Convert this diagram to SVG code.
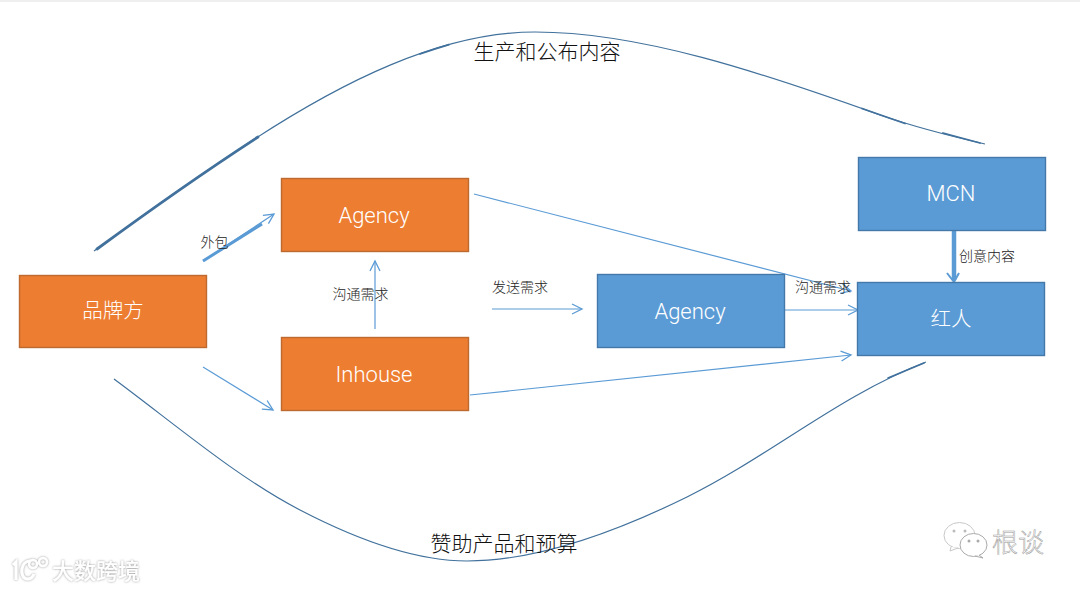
<svg xmlns="http://www.w3.org/2000/svg" width="1080" height="590" viewBox="0 0 1080 590">
<style>
.o{fill:#ed7d31;stroke:#bd6a30;stroke-width:1.4}
.b{fill:#5b9bd5;stroke:#4478a8;stroke-width:1.4}
.l{font-family:Roboto,"Liberation Sans",sans-serif;font-weight:300;font-size:22px;fill:#fff;text-anchor:middle}
.c{font-family:"Noto Sans CJK SC","Liberation Sans",sans-serif;font-weight:300;fill:#fff;text-anchor:middle;font-size:20.500px}
.s{font-family:"Noto Sans CJK SC",sans-serif;font-weight:300;fill:#222;font-size:14px;text-anchor:middle}
.t{font-family:"Noto Sans CJK SC",sans-serif;font-weight:300;fill:#111;font-size:21px;text-anchor:middle}
.a{fill:none;stroke:#5b9bd5;stroke-width:1.2}
.d{fill:none;stroke:#41719c;stroke-width:1.2}
.th{fill:none;stroke:#41719c;stroke-linecap:round}
.w{font-family:"Noto Sans CJK SC",sans-serif;text-anchor:middle;fill:#fff}
</style>
<defs>
<marker id="ah" markerWidth="14" markerHeight="12" refX="11" refY="6" orient="auto" markerUnits="userSpaceOnUse"><path d="M1 1L11 6L1 11" fill="none" stroke="#5b9bd5" stroke-width="1.3"/></marker>
<filter id="sh" x="-20%" y="-30%" width="140%" height="160%"><feDropShadow dx="0" dy="0" stdDeviation="1.100" flood-color="#777" flood-opacity="0.800"/></filter>
</defs>
<rect width="1080" height="590" fill="#fff"/>
<rect width="1080" height="2" fill="#efefef"/>
<g id="connectors">
<path class="d" d="M94 251C146 213 198 176 250 142C340 83 440 32 535 32C640 32 760 72 880 115C915 127 950 136 985 144"/>
<path class="th" stroke-width="2.800" d="M97 249C146 213 198 176 258 137"/>
<path class="th" stroke-width="1.800" d="M420 54Q434 49 449 44.600"/>
<path class="th" stroke-width="1.800" d="M862 108.500L905 123.500"/>
<path class="th" stroke-width="1.800" d="M943 133L980 143"/>
<path class="d" d="M114 379C176 425 238 478 300 510C350 536 410 561 467 561C540 561 620 530 687 497C770 456 840 395 926 362"/>
<path class="th" stroke-width="1.600" d="M888 378L924 363"/>
<path class="a" d="M203 261L274 214" marker-end="url(#ah)"/>
<path d="M203 261L262 224" stroke="#5b9bd5" stroke-width="3" fill="none"/>
<path class="a" d="M203 367L273 410" marker-end="url(#ah)"/>
<path class="a" d="M375 329V261" marker-end="url(#ah)"/>
<path class="a" d="M492 309H582" marker-end="url(#ah)"/>
<path class="a" d="M785 310H858" marker-end="url(#ah)"/>
<path class="a" d="M474 194L851 291" marker-end="url(#ah)"/>
<path class="a" d="M470 395L851 355" marker-end="url(#ah)"/>
<path d="M954 231V280" stroke="#5b9bd5" stroke-width="4.500" fill="none"/>
<path d="M947 273L954 282L959 273" stroke="#5b9bd5" stroke-width="2" fill="none"/>
</g>
<g id="brand"><rect class="o" x="19.500" y="275.500" width="187" height="72"/><text class="c" x="113" y="318">品牌方</text></g>
<g id="agency-client"><rect class="o" x="281.500" y="178.500" width="187" height="73"/><text class="l" x="374" y="223">Agency</text></g>
<g id="inhouse"><rect class="o" x="281.500" y="337.500" width="187" height="73"/><text class="l" x="374" y="382">Inhouse</text></g>
<g id="agency-creator"><rect class="b" x="597.500" y="274.500" width="187" height="73"/><text class="l" x="690" y="319">Agency</text></g>
<g id="mcn"><rect class="b" x="858.500" y="157.500" width="187" height="73"/><text class="l" x="951" y="201">MCN</text></g>
<g id="creator"><rect class="b" x="857.500" y="282.500" width="187" height="73"/><text class="c" x="951" y="326">红人</text></g>
<g id="labels">
<text class="t" x="547" y="59">生产和公布内容</text>
<text class="t" x="504" y="551">赞助产品和预算</text>
<text class="s" x="214.500" y="247">外包</text>
<text class="s" x="360.500" y="299">沟通需求</text>
<text class="s" x="520" y="292">发送需求</text>
<text class="s" x="823" y="292">沟通需求</text>
<text class="s" x="987" y="261">创意内容</text>
</g>
<g id="watermarks">
<g filter="url(#sh)">
<path d="M13 565L16 562V580" fill="none" stroke="#fff" stroke-width="3"/>
<path d="M31 561C20 560 19 578 27 579C30 579 33 577 34 574" fill="none" stroke="#fff" stroke-width="3"/>
<circle cx="33" cy="564" r="4" fill="none" stroke="#fff" stroke-width="2.500"/>
<circle cx="43" cy="562" r="4" fill="none" stroke="#fff" stroke-width="2.500"/>
<text class="w" x="96" y="579" font-size="22" font-weight="500">大数跨境</text>
</g>
<ellipse cx="959.500" cy="535.500" rx="15.500" ry="13" fill="#fff" stroke="#c8c8c8"/>
<path d="M951 547L950 551L958 548" fill="#fff" stroke="#c8c8c8"/>
<ellipse cx="973.500" cy="545" rx="13.500" ry="11.500" fill="#fff" stroke="#aaa"/>
<path d="M979 555L983 558L975 556" fill="#fff" stroke="#aaa"/>
<circle cx="954" cy="531" r="1.500" fill="#bbb"/><circle cx="965" cy="531" r="1.500" fill="#bbb"/>
<circle cx="969" cy="541" r="1.500" fill="#aaa"/><circle cx="978" cy="541" r="1.500" fill="#aaa"/>
<text class="w" x="1018" y="552" font-size="26" font-weight="300" style="stroke:#999;stroke-width:.5">根谈</text>
</g>
</svg>
